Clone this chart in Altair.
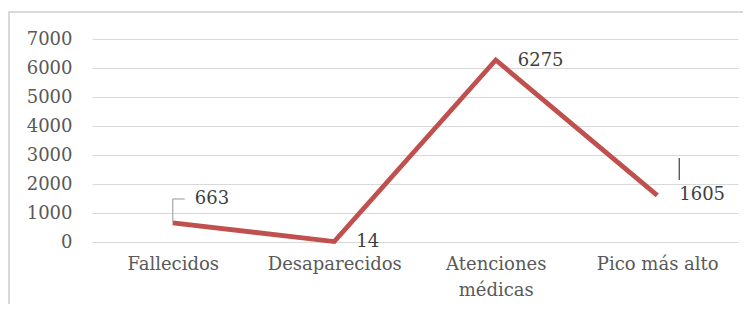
import altair as alt
import pandas as pd

categories = ["Fallecidos", "Desaparecidos", "Atenciones médicas", "Pico más alto"]
values = [663, 14, 6275, 1605]
label_text = ["663", "14", "6275", "1605"]
label_y = [1500, 14, 6240, 1620]
y_ticks = [0, 1000, 2000, 3000, 4000, 5000, 6000, 7000]

# leader lines (data units)
leader1_cat = ["Fallecidos"]
leader1_y = [663]
leader1_y2 = [1483]
leader2_cat = ["Pico más alto"]
leader2_y = [2140]
leader2_y2 = [2900]

df = pd.DataFrame({"cat": categories, "val": values, "lab": label_text, "ly": label_y})
l1 = pd.DataFrame({"cat": leader1_cat, "y": leader1_y, "y2": leader1_y2})
l2 = pd.DataFrame({"cat": leader2_cat, "y": leader2_y, "y2": leader2_y2})

FONT = "DejaVu Serif"
xscale = alt.Scale(type="point", padding=0.5, domain=categories)
yscale = alt.Scale(domain=[0, 7000], nice=False)

x_axis = alt.Axis(title=None, labelAngle=0, ticks=False, domain=False,
                  labelFont=FONT, labelFontSize=18, labelColor="#595959",
                  labelPadding=13, labelLineHeight=26,
                  labelExpr="length(datum.label) > 15 ? split(datum.label, ' ') : datum.label")
y_axis = alt.Axis(title=None, values=y_ticks, ticks=False, domain=False,
                  format="d", labelOverlap=False,
                  labelFont=FONT, labelFontSize=18, labelColor="#595959",
                  labelPadding=20, gridColor="#d9d9d9", gridWidth=1.2)

def X():
    return alt.X("cat:N", scale=xscale, sort=categories, axis=x_axis)

def Y(field):
    return alt.Y(field, scale=yscale, axis=y_axis)

line = alt.Chart(df).mark_line(color="#C0504D", strokeWidth=4.8).encode(x=X(), y=Y("val:Q"))

labels = alt.Chart(df).mark_text(align="left", baseline="middle", dx=22, font=FONT,
                                 fontSize=18, color="#404040").encode(
    x=X(), y=Y("ly:Q"), text="lab:N")

lead1v = alt.Chart(l1).mark_rule(color="#a6a6a6", strokeWidth=1.2).encode(
    x=X(), y=Y("y:Q"), y2="y2:Q")
lead1h = alt.Chart(l1).mark_rule(color="#a6a6a6", strokeWidth=1.2, x2Offset=12).encode(
    x=X(), x2="cat:N", y=Y("y2:Q"))
lead2 = alt.Chart(l2).mark_rule(color="#404040", strokeWidth=1.2, xOffset=22).encode(
    x=X(), y=Y("y:Q"), y2="y2:Q")

border = alt.Chart(df).mark_rect(fill=None, stroke="#d9d9d9", strokeWidth=1.5, clip=False).encode(
    x=alt.value(-83), x2=alt.value(720), y=alt.value(-27), y2=alt.value(320))

chart = alt.layer(line, border, lead1v, lead1h, lead2, labels).properties(
    width=646, height=203,
    autosize=alt.AutoSizeParams(type="none"),
    padding={"left": 84, "top": 31, "right": 5, "bottom": 62},
).configure_view(stroke=None)

chart.save("out.html", embed_options={"renderer": "svg", "actions": False})
